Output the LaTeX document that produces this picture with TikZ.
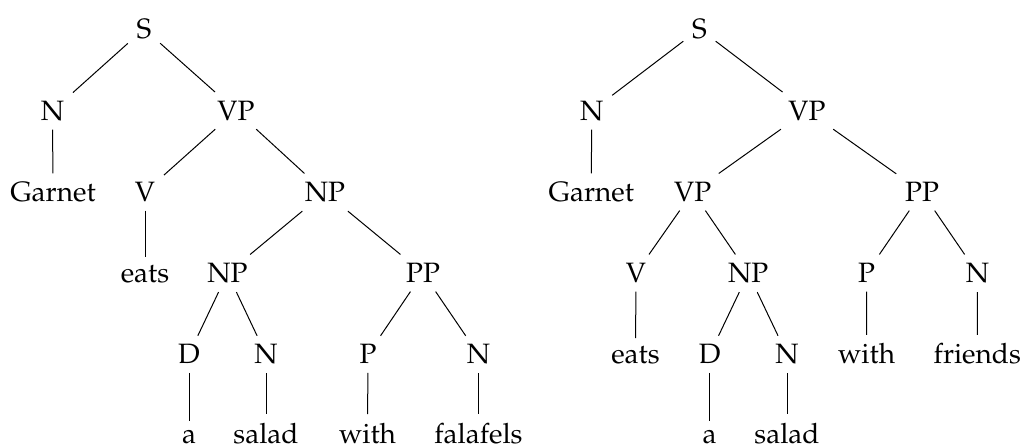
\documentclass[tikz,border=0pt]{standalone}
\usepackage[T1]{fontenc}
\usepackage{mathpazo}
\begin{document}
\begin{tikzpicture}[x=0.4pt,y=-0.4pt,
  every node/.style={anchor=base,font=\fontsize{11.2pt}{13pt}\selectfont},
  edge/.style={draw=black,line width=0.4pt}]
\useasboundingbox (0,0) rectangle (1022,446);
% ---------- left tree ----------
\node (lS) at (144,38.3) {S};
\node (lN) at (52.5,120.3) {N};
\node (lVP) at (236,120.3) {VP};
\node (lGarnet) at (53,201.7) {Garnet};
\node (lV) at (145,201.7) {V};
\node (lNP) at (325,201.7) {NP};
\node (leats) at (145,282.7) {eats};
\node (lNPb) at (227.5,282.7) {NP};
\node (lPP) at (423,282.7) {PP};
\node (lD) at (189,364) {D};
\node (lNb) at (266,364) {N};
\node (lP) at (368,364) {P};
\node (lNc) at (478.5,364) {N};
\node (la) at (189,443.2) {a};
\node (lsalad) at (266,443.2) {salad};
\node (lwith) at (367.5,443.2) {with};
\node (lfalafels) at (478.5,443.2) {falafels};
\path[edge] (lS) -- (lN);
\path[edge] (lS) -- (lVP);
\path[edge] (lN) -- (lGarnet);
\path[edge] (lVP) -- (lV);
\path[edge] (lVP) -- (lNP);
\path[edge] (lV) -- (leats);
\path[edge] (lNP) -- (lNPb);
\path[edge] (lNP) -- (lPP);
\path[edge] (lNPb) -- (lD);
\path[edge] (lNPb) -- (lNb);
\path[edge] (lPP) -- (lP);
\path[edge] (lPP) -- (lNc);
\path[edge] (lD) -- (la);
\path[edge] (lNb) -- (lsalad);
\path[edge] (lP) -- (lwith);
\path[edge] (lNc) -- (lfalafels);
% ---------- right tree ----------
\node (rS) at (699.5,38.3) {S};
\node (rN) at (591.7,120.3) {N};
\node (rVP) at (807,120.3) {VP};
\node (rGarnet) at (591.3,201.7) {Garnet};
\node (rVPb) at (692.7,201.7) {VP};
\node (rPP) at (922,201.7) {PP};
\node (rV) at (636,282.7) {V};
\node (rNP) at (748.3,282.7) {NP};
\node (rP) at (866.7,282.7) {P};
\node (rNb) at (977.5,282.7) {N};
\node (reats) at (635.5,364) {eats};
\node (rD) at (709.7,364) {D};
\node (rNc) at (787,364) {N};
\node (rwith) at (866.6,364) {with};
\node (rfriends) at (977.3,364) {friends};
\node (ra) at (709.7,443.2) {a};
\node (rsalad) at (787,443.2) {salad};
\path[edge] (rS) -- (rN);
\path[edge] (rS) -- (rVP);
\path[edge] (rN) -- (rGarnet);
\path[edge] (rVP) -- (rVPb);
\path[edge] (rVP) -- (rPP);
\path[edge] (rVPb) -- (rV);
\path[edge] (rVPb) -- (rNP);
\path[edge] (rPP) -- (rP);
\path[edge] (rPP) -- (rNb);
\path[edge] (rV) -- (reats);
\path[edge] (rNP) -- (rD);
\path[edge] (rNP) -- (rNc);
\path[edge] (rP) -- (rwith);
\path[edge] (rNb) -- (rfriends);
\path[edge] (rD) -- (ra);
\path[edge] (rNc) -- (rsalad);
\end{tikzpicture}
\end{document}
